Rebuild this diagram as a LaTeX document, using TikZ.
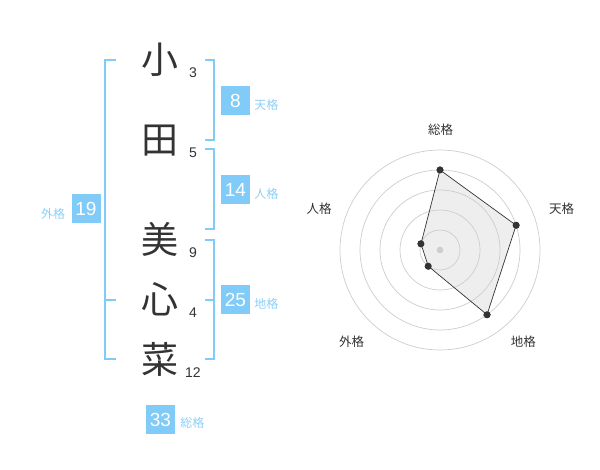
\documentclass[tikz,border=0pt]{standalone}
\usepackage{fontspec}
\usepackage{tikz}
\newfontfamily\cjk{Noto Sans CJK JP}
\newfontfamily\numfont{Liberation Sans}
\usetikzlibrary{positioning}
\definecolor{kblue}{RGB}{128, 203, 248}
\definecolor{lblue}{RGB}{140, 207, 247}
\definecolor{ink}{RGB}{51, 51, 51}
\definecolor{ringgray}{RGB}{205, 205, 205}
\definecolor{polygray}{RGB}{238, 238, 238}
\tikzset{kanji/.style = {font=\cjk\fontsize{37}{37}\selectfont, text=ink, inner sep=0pt},
         strokes/.style = {font=\numfont\fontsize{14}{14}\selectfont, text=ink, inner sep=0pt},
         kakubox/.style = {fill=kblue, text=white, minimum size=29pt, inner sep=0pt,
                           font=\numfont\fontsize{19}{19}\selectfont},
         kakulabel/.style = {text=lblue, font=\cjk\fontsize{12}{12}\selectfont, inner sep=0pt},
         bracket/.style = {draw=kblue, line width=2pt},
         axislabel/.style = {text=ink, font=\cjk\fontsize{12.5}{12.5}\selectfont, inner sep=0pt},
         dot/.style = {circle, fill=ink, inner sep=0pt, minimum size=7pt}}

\begin{document}
\begin{tikzpicture}[x=1pt, y=-1pt]
      \useasboundingbox (0, 0) rectangle (600, 470);
      % name and strokes
      \node [kanji] (k1) at (160, 60) {小};
      \node [kanji] (k2) at (160, 141) {田};
      \node [kanji] (k3) at (160, 239) {美};
      \node [kanji] (k4) at (160, 299) {心};
      \node [kanji] (k5) at (160, 359) {菜};
      \node [strokes] (s1) at (193, 73) {3};
      \node [strokes] (s2) at (193, 153) {5};
      \node [strokes] (s3) at (193, 253) {9};
      \node [strokes] (s4) at (193, 313) {4};
      \node [strokes] (s5) at (193, 373) {12};
      % brackets
      \draw [bracket] (116, 60) -- (105, 60) -- (105, 359) -- (116, 359);
      \draw [bracket] (105, 300) -- (116, 300);
      \draw [bracket] (205, 60) -- (214, 60) -- (214, 140) -- (205, 140);
      \draw [bracket] (205, 149) -- (214, 149) -- (214, 229) -- (205, 229);
      \draw [bracket] (205, 240) -- (214, 240) -- (214, 359) -- (205, 359);
      \draw [bracket] (205, 300) -- (214, 300);
      % kaku boxes
      \node [kakubox] (ten) at (235.5, 100.5) {8};
      \node [kakulabel, right=4pt of ten, yshift=-4pt] (tenl) {天格};
      \node [kakubox] (jin) at (235.5, 190) {14};
      \node [kakulabel, right=4pt of jin, yshift=-4pt] (jinl) {人格};
      \node [kakubox] (chi) at (235.5, 300) {25};
      \node [kakulabel, right=4pt of chi, yshift=-4pt] (chil) {地格};
      \node [kakubox] (gai) at (86, 208.5) {19};
      \node [kakulabel, left=6pt of gai, yshift=-5pt] (gail) {外格};
      \node [kakubox] (so) at (160.5, 419.5) {33};
      \node [kakulabel, right=5pt of so, yshift=-3pt] (sol) {総格};
      % radar chart
      \begin{scope}[shift={(440, 250)}]
        \node [dot] (dso) at (90:80pt) {};
        \node [dot] (dten) at (18:80pt) {};
        \node [dot] (dchi) at (-54:80pt) {};
        \node [dot] (dgai) at (-126:20pt) {};
        \node [dot] (djin) at (162:20pt) {};
        \fill [polygray] (dso.center) -- (dten.center) -- (dchi.center) -- (dgai.center) -- (djin.center) -- cycle;
        \foreach \r in {20, 40, ..., 100}
          \draw [ringgray, line width=0.7pt] (0pt, 0pt) circle (\r pt);
        \fill [ringgray] (0pt, 0pt) circle (3.3pt);
        \draw [ink, line width=0.7pt] (dso.center) -- (dten.center) -- (dchi.center) -- (dgai.center) -- (djin.center) -- cycle;
        \foreach \n in {so, ten, chi, gai, jin}
          \node [dot] at (d\n) {};
        \node [axislabel] (aso) at (0.7pt, 120pt) {総格};
        \node [axislabel] (aten) at (121.7pt, 41pt) {天格};
        \node [axislabel] (ajin) at (-121pt, 41pt) {人格};
        \node [axislabel] (achi) at (83.3pt, -91.7pt) {地格};
        \node [axislabel] (agai) at (-88.3pt, -91.7pt) {外格};
      \end{scope}
    \end{tikzpicture}
\end{document}
